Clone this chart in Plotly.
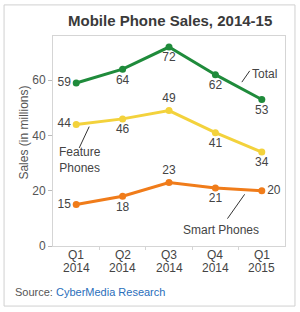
import plotly.graph_objects as go

quarter_labels = ["Q1", "Q2", "Q3", "Q4", "Q1"]
year_labels = ["2014", "2014", "2014", "2014", "2015"]
total = [59, 64, 72, 62, 53]
feature = [44, 46, 49, 41, 34]
smart = [15, 18, 23, 21, 20]
y_ticks = [0, 20, 40, 60]

total_pos = ["middle left", "bottom center", "bottom center", "bottom center", "bottom center"]
feature_pos = ["middle left", "bottom center", "top center", "bottom center", "bottom center"]
smart_pos = ["middle left", "bottom center", "top center", "bottom center", "middle right"]

FONT = "Liberation Sans, Arial, sans-serif"
xs = list(range(len(quarter_labels)))

fig = go.Figure()
for vals, col, pos in [(total, "#1f8b3b", total_pos),
                       (feature, "#f3d23c", feature_pos),
                       (smart, "#f07c1a", smart_pos)]:
    fig.add_trace(go.Scatter(
        x=xs, y=vals, mode="lines+markers+text",
        line=dict(color=col, width=3), marker=dict(color=col, size=7),
        text=[str(v) for v in vals], textposition=pos,
        textfont=dict(family=FONT, size=12, color="#444"),
        cliponaxis=False, showlegend=False, hoverinfo="skip"))

# pointer lines
for (x0, y0, x1, y1) in [(3.57, 59.3, 3.74, 63.4), (0.28, 43.2, 0.065, 35.5), (3.63, 18.7, 3.26, 9.9)]:
    fig.add_shape(type="line", xref="x", yref="y", x0=x0, y0=y0, x1=x1, y1=y1,
                  line=dict(color="#333", width=1))

ann = dict(showarrow=False, font=dict(family=FONT, size=12, color="#444"))
fig.add_annotation(x=4.06, y=62.3, xref="x", yref="y", text="Total", **ann)
fig.add_annotation(x=0.09, y=31.1, xref="x", yref="y", text="Feature<br>Phones", **ann)
fig.add_annotation(x=3.11, y=5.9, xref="x", yref="y", text="Smart Phones", **ann)

# x tick labels (two tight lines)
for i in xs:
    fig.add_annotation(x=i, y=-0.043, xref="x", yref="paper", text=quarter_labels[i],
                       xanchor="center", yanchor="middle", **ann)
    fig.add_annotation(x=i, y=-0.105, xref="x", yref="paper", text=year_labels[i],
                       xanchor="center", yanchor="middle", **ann)

fig.add_annotation(x=0.504, y=1.076, xref="paper", yref="paper", showarrow=False,
                   xanchor="center", yanchor="middle",
                   text="<b>Mobile Phone Sales, 2014-15</b>",
                   font=dict(family=FONT, size=15, color="#3a3a3a"))
fig.add_annotation(x=-0.127, y=0.538, xref="paper", yref="paper", showarrow=False,
                   xanchor="center", yanchor="middle",
                   text="Sales (in millions)", textangle=-90,
                   font=dict(family=FONT, size=12, color="#555"))
fig.add_annotation(x=-0.172, y=-0.219, xref="paper", yref="paper", showarrow=False,
                   xanchor="left", yanchor="middle",
                   text="Source: <span style='color:#2a6ebb'>CyberMedia Research</span>",
                   font=dict(family=FONT, size=11, color="#555"))

fig.add_shape(type="rect", xref="paper", yref="paper", x0=-0.211, x1=1.043, y0=-0.286, y1=1.148,
              line=dict(color="#d0d0d0", width=1))

fig.update_layout(
    width=300, height=312,
    margin=dict(l=53, r=15, t=36, b=66),
    paper_bgcolor="white", plot_bgcolor="white",
    xaxis=dict(range=[-0.5, 4.5], tickvals=[i + 0.5 for i in xs[:-1]], showticklabels=False,
               showgrid=False, showline=True, linecolor="#d5d5d5", mirror=True, zeroline=False,
               ticks="outside", ticklen=3, tickcolor="#d5d5d5"),
    yaxis=dict(range=[0, 76], tickvals=y_ticks, showgrid=False,
               showline=True, linecolor="#d5d5d5", mirror=True, zeroline=False,
               ticks="outside", ticklen=4, tickcolor="#bbb",
               tickfont=dict(family=FONT, size=12, color="#555")),
)

fig.write_html("out.html")
